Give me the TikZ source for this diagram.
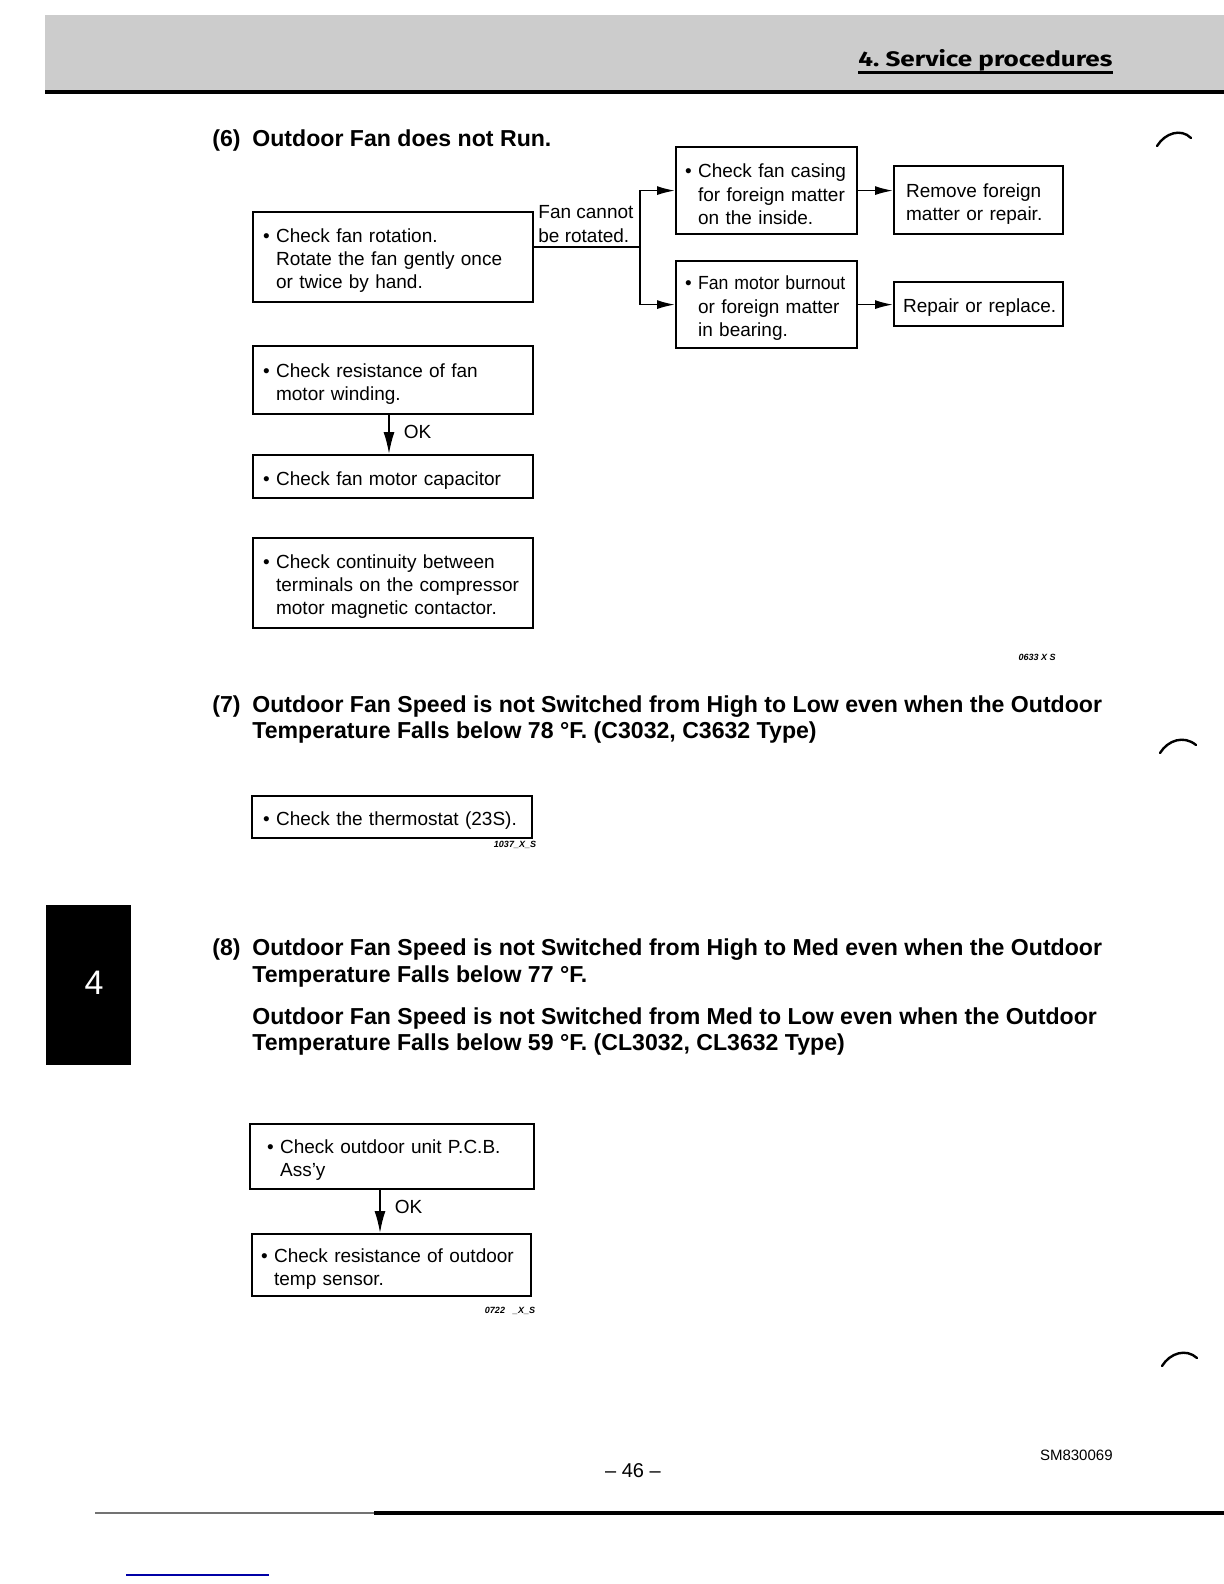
\documentclass[tikz,border=0pt]{standalone}
\usepackage{fontspec}
\usepackage{graphicx}
\setmainfont{Liberation Sans}
\newfontfamily\hdrfont{Fira Sans}
\usetikzlibrary{arrows.meta}
\tikzset{
  box/.style={draw, line width=1.1pt, align=left, inner ysep=0pt, anchor=north west,
    font=\fontsize{9.5}{11.6}\selectfont},
  conn/.style={line width=0.8pt},
  arr/.style={line width=0.8pt, -{Latex[length=9pt,width=4.5pt]}},
  varr/.style={line width=0.8pt, -{Latex[length=11pt,width=5.5pt]}},
  head/.style={anchor=base west, inner sep=0pt, font=\fontsize{11.55}{14}\selectfont\bfseries},
  lbl/.style={font=\fontsize{9.5}{11.6}\selectfont, align=left, inner sep=0pt},
  code/.style={font=\fontsize{4.5}{5}\selectfont\bfseries\itshape, inner sep=0pt},
  scan/.style={line width=1.2pt, line cap=round},
}
\newcommand{\fst}{\rule{0pt}{10.5pt}}
\newcommand{\bul}{\fst\textbullet\ }
\newcommand{\ind}{\hphantom{\textbullet\ }}
\begin{document}
\begin{tikzpicture}[x=0.5pt,y=-0.5pt]
\useasboundingbox (0,0) rectangle (1224,1584);
\fill[white] (0,0) rectangle (1224,1584);
% header band
\fill[black!20] (45,15) rectangle (1224,91);
\draw[line width=1.6pt] (45,92) -- (1224,92);
\node[anchor=base west, inner sep=0pt] (hdr) at (858,67)
  {\resizebox{127pt}{\height}{\hdrfont\fontsize{10.5}{12}\selectfont\bfseries 4.\ Service procedures}};
\draw[line width=1.5pt] (858,73) -- (1113,73);

% section 6
\node[head] (h6n) at (212,147) {(6)};
\node[head] (h6) at (252,147) {Outdoor Fan does not Run.};

\node[box, inner xsep=5pt, text width=130pt, minimum height=45pt] (A) at (252,211)
  {\bul Check fan rotation.\\\ind Rotate the fan gently once\\\ind or twice by hand.};
\node[box, inner xsep=4.5pt, text width=81.5pt, minimum height=43.5pt] (B) at (675,146)
  {\mbox{\bul Check fan casing}\\\mbox{\ind for foreign matter}\\\ind on the inside.};
\node[box, inner xsep=4.5pt, text width=81.5pt, minimum height=43.5pt] (C) at (675,260)
  {\mbox{\bul \scalebox{0.93}[1]{Fan motor burnout}}\\\mbox{\ind or foreign matter}\\\ind in bearing.};
\node[box, inner xsep=6pt, text width=72.5pt, minimum height=34pt] (D) at (893,165)
  {\fst Remove foreign\\\mbox{matter or repair.}};
\node[box, inner xsep=4.5pt, text width=75.5pt, minimum height=22pt] (E) at (893,281)
  {\mbox{\fst Repair or replace.}};
\node[lbl, anchor=west] (fan) at (538,224) {Fan cannot\\be rotated.};

\coordinate (sp) at (640,247);
\draw[conn] (A.east |- sp) -- (sp);
\draw[arr] (sp) |- (B.west);
\draw[arr] (sp) |- (C.west);
\draw[arr] (B.east) -- (D.west |- B.east);
\draw[arr] (C.east) -- (E.west |- C.east);

\node[box, inner xsep=5pt, text width=130pt, minimum height=34pt] (F) at (252,345)
  {\bul Check resistance of fan\\\ind motor winding.};
\node[box, inner xsep=5pt, text width=130pt, minimum height=21.5pt] (G) at (252,454)
  {\bul Check fan motor capacitor};
\node[box, inner xsep=5pt, text width=130pt, minimum height=45pt] (H) at (252,537)
  {\bul Check continuity between\\\mbox{\ind terminals on the compressor}\\\ind motor magnetic contactor.};
\coordinate (okx1) at (389,0);
\draw[varr] (F.south -| okx1) -- node[lbl, right=7pt, pos=0.42] (ok1) {OK} (G.north -| okx1);
\node[code] (c1) at (1037,657) {0633 X S};

% section 7
\node[head] (h7n) at (212,712) {(7)};
\node[head] (h7a) at (252,712) {Outdoor Fan Speed is not Switched from High to Low even when the Outdoor};
\node[head] (h7b) at (252,738) {Temperature Falls below 78 °F. (C3032, C3632 Type)};
\node[box, inner xsep=5.5pt, text width=129pt, minimum height=21pt] (I) at (251,795)
  {\bul Check the thermostat (23S).};
\node[code] (c2) at (515,845) {1037\_X\_S};

% tab
\fill (46,905) rectangle (131,1065);
\node[text=white, inner sep=0pt, font=\fontsize{17}{20}\selectfont] (tab) at (94,983) {4};

% section 8
\node[head] (h8n) at (212,955) {(8)};
\node[head] (h8a) at (252,955) {Outdoor Fan Speed is not Switched from High to Med even when the Outdoor};
\node[head] (h8b) at (252,982) {Temperature Falls below 77 °F.};
\node[head] (h8c) at (252,1024) {Outdoor Fan Speed is not Switched from Med to Low even when the Outdoor};
\node[head] (h8d) at (252,1050) {Temperature Falls below 59 °F. (CL3032, CL3632 Type)};

\node[box, inner xsep=8.5pt, text width=125pt, minimum height=32.5pt] (J) at (249,1123)
  {\bul Check outdoor unit P.C.B.\\\ind Ass’y};
\node[box, inner xsep=4.5pt, text width=130.5pt, minimum height=31pt] (K) at (251,1233)
  {\bul Check resistance of outdoor\\\ind temp sensor.};
\coordinate (okx2) at (380,0);
\draw[varr] (J.south -| okx2) -- node[lbl, right=7pt, pos=0.4] (ok2) {OK} (K.north -| okx2);
\node[code] (c3) at (510,1311) {0722\hspace{4pt}\_X\_S};

% footer
\node[inner sep=0pt, font=\fontsize{10}{12}\selectfont] (pg) at (633,1471) {– 46 –};
\node[inner sep=0pt, anchor=east, font=\fontsize{7.5}{9}\selectfont] (sm) at (1113,1455) {SM830069};
\draw[black!55, line width=0.9pt] (95,1513) -- (374,1513);
\draw[line width=1.8pt] (374,1513) -- (1224,1513);
\draw[blue!65!black, line width=1pt] (126,1575) -- (269,1575);

% scan marks at right edge
\draw[scan] (1157,146) .. controls (1165,133) and (1181,128) .. (1191,138);
\draw[scan] (1160,753) .. controls (1168,740) and (1184,735) .. (1196,745);
\draw[scan] (1162,1366) .. controls (1170,1353) and (1186,1348) .. (1197,1358);
\end{tikzpicture}
\end{document}
